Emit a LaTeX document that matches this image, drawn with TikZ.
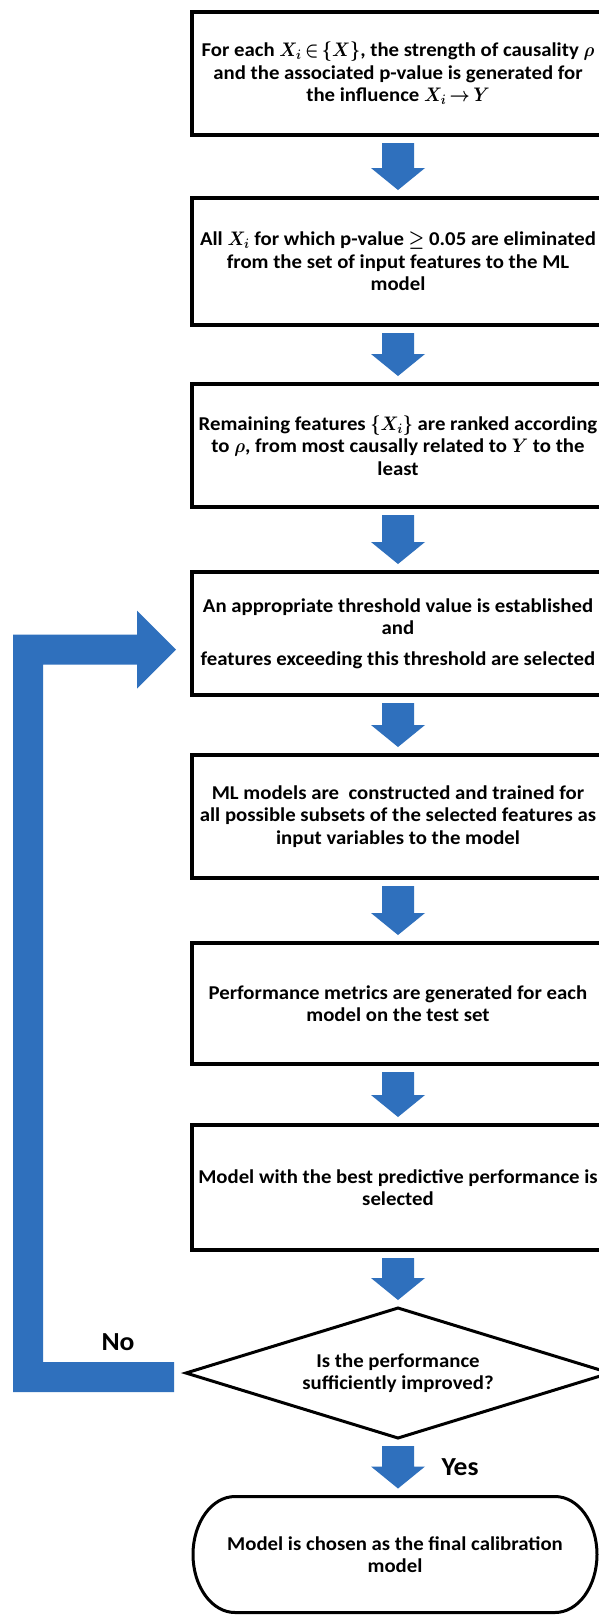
\RequirePackage{fix-cm}
\documentclass[tikz,border=0pt]{standalone}
\usepackage{amsmath}
\usepackage{graphicx}
\usepackage{fontspec}
\setmainfont{Carlito}[FakeStretch=1.06]
\usetikzlibrary{shapes.geometric,calc}

\definecolor{flowblue}{RGB}{47,112,189}
\newcommand\boxfont{\fontsize{19.6}{22.5}\selectfont\bfseries\boldmath
  \thickmuskip=3mu\medmuskip=2mu}
\newcommand\labelfont{\fontsize{26}{30}\selectfont\bfseries}
% slightly condensed inline math, to sit with the text face
\newcommand\mth[1]{\scalebox{0.9}[1]{$#1$}}

% block arrow pointing down from the bottom of one node to the top of the next
\newcommand\flowarrow[2]{%
  \fill[flowblue] let \p1=(#1.south), \p2=(#2.north) in
    (\x1-16pt,\y1-8pt) -- (\x1+16pt,\y1-8pt) -- (\x1+16pt,\y2+30pt)
    -- (\x1+27pt,\y2+30pt) -- (\x1,\y2+8pt) -- (\x1-27pt,\y2+30pt)
    -- (\x1-16pt,\y2+30pt) -- cycle;}

\tikzset{
  stepbox/.style={draw, line width=4pt, minimum width=412pt, inner sep=0pt,
    outer sep=0pt, align=center, font=\boxfont},
  decision/.style={draw, diamond, shape aspect=3.26, line width=3pt,
    minimum width=424pt, minimum height=130pt, inner sep=0pt, outer sep=0pt,
    align=center, font=\boxfont},
  terminal/.style={minimum width=404pt, minimum height=116pt, inner sep=0pt,
    outer sep=0pt, align=center, font=\boxfont},
  outline/.style={draw, line width=3pt},
  answer/.style={font=\labelfont, inner sep=0pt}
}

\begin{document}
\begin{tikzpicture}[x=1pt,y=-1pt]
  \fill[white] (0,0) rectangle (599,1615);
  \useasboundingbox (0,0) rectangle (599,1615);

  \node[stepbox, minimum height=123pt] (b1) at (398,73.5)
    {For each \mth{X_i \in \{X\}}, the strength of causality \mth{\rho}\\
     and the associated p-value is generated for\\
     the influence \mth{X_i \rightarrow Y}};
  \node[stepbox, minimum height=127pt] (b2) at (398,261.5)
    {All \mth{X_i} for which p-value \mth{{\geq}} 0.05 are eliminated\\
     from the set of input features to the ML\\
     model};
  \node[stepbox, minimum height=123pt] (b3) at (398,445.5)
    {Remaining features \mth{\{X_i\}} are ranked according\\
     to \mth{\rho}, from most causally related to \mth{Y} to the\\
     least};
  \node[stepbox, minimum height=123pt] (b4) at (398,633.5)
    {An appropriate threshold value is established\\
     and\\[8pt]
     features exceeding this threshold are selected};
  \node[stepbox, minimum height=123pt] (b5) at (398,816.5)
    {ML models are~ constructed and trained for\\
     all possible subsets of the selected features as\\
     input variables to the model};
  \node[stepbox, minimum height=121pt] (b6) at (398,1003.5)
    {Performance metrics are generated for each\\
     model on the test set};
  \node[stepbox, minimum height=125pt] (b7) at (398,1187.5)
    {Model with the best predictive performance is\\
     selected};
  \node[decision] (dec) at (398,1373)
    {Is the performance\\ sufficiently improved?};
  \node[terminal] (term) at (395,1554.5)
    {Model is chosen as the final calibration\\ model};
  % terminator outline with elliptical ends
  \draw[outline] ($(term.north west)+(42,0)$) -- ($(term.north east)+(-42,0)$)
    arc[start angle=90, end angle=-90, x radius=42pt, y radius=58pt]
    -- ($(term.south west)+(42,0)$)
    arc[start angle=270, end angle=90, x radius=42pt, y radius=58pt] -- cycle;

  \flowarrow{b1}{b2}
  \flowarrow{b2}{b3}
  \flowarrow{b3}{b4}
  \flowarrow{b4}{b5}
  \flowarrow{b5}{b6}
  \flowarrow{b6}{b7}
  \flowarrow{b7}{dec}
  \flowarrow{dec}{term}

  % feedback loop from the decision back to the threshold step
  \coordinate (nend) at ($(dec.west)+(-12,4)$);
  \coordinate (tip) at ($(b4.west)+(-16,16)$);
  \fill[flowblue] let \p1=(nend), \p2=(tip) in
    (\x1,\y1+15pt) -- (\x1-131pt,\y1+15pt) -- (\x1-131pt,\y2-15pt)
    -- (\x2-39pt,\y2-15pt) -- (\x2-39pt,\y2-39pt) -- (\x2,\y2)
    -- (\x2-39pt,\y2+39pt) -- (\x2-39pt,\y2+15pt) -- (\x1-161pt,\y2+15pt)
    -- (\x1-161pt,\y1-15pt) -- (\x1,\y1-15pt) -- cycle;

  \node[answer] (no) at (118,1342) {No};
  \node[answer] (yes) at (460,1467) {Yes};
\end{tikzpicture}
\end{document}
